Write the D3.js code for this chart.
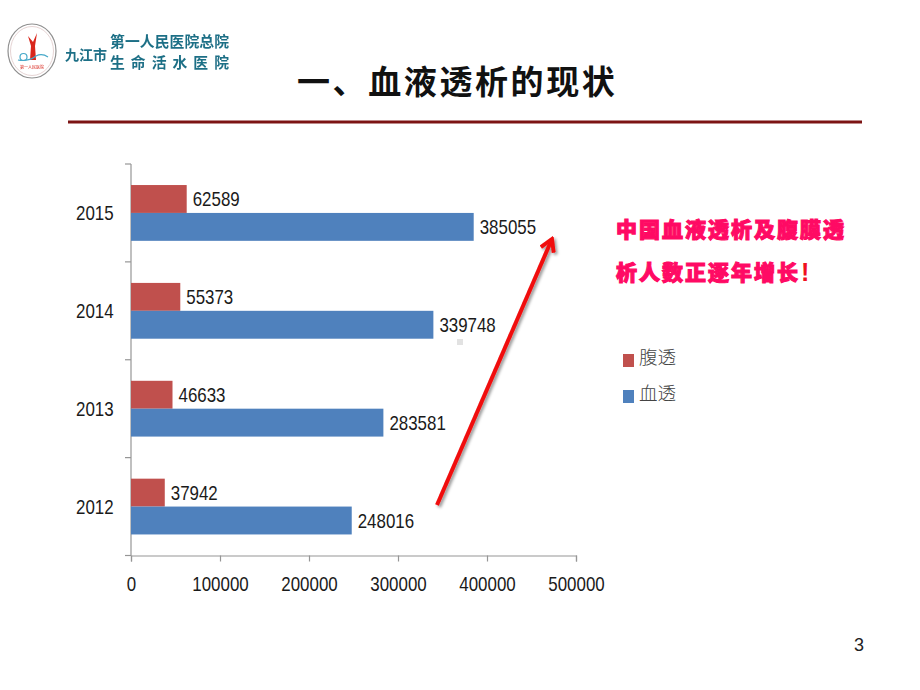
<!DOCTYPE html>
<html><head><meta charset="utf-8">
<script src="https://cdnjs.cloudflare.com/ajax/libs/d3/7.8.5/d3.min.js"></script>
<style>html,body{margin:0;padding:0;background:#fff}svg{display:block}</style>
</head><body><svg id="c" width="920" height="690"></svg>
<script>
const years = ["2012","2013","2014","2015"];
const hemo = [248016,283581,339748,385055];
const pd = [37942,46633,55373,62589];
const xTicks = [0,100000,200000,300000,400000,500000];
const legendLabels = ["腹透","血透"];
const title = "一、血液透析的现状";
const noteLines = ["中国血液透析及腹膜透","析人数正逐年增长"];
const logoTop = "第一人民医院总院", logoBottom = "生 命 活 水 医 院", logoLeft = "九江市";

const svg = d3.select("#c");
const cjk = '"Noto Sans CJK SC",sans-serif';
const latin = '"Liberation Sans",sans-serif';
const RED="#c0504d", BLUE="#4f81bd", AXIS="#969696", TXT="#1a1a1a";
const LFS=21, DIGIT=9.4;
const numText = sel => sel.attr("font-family",latin).attr("font-size",LFS).attr("fill",TXT)
  .attr("lengthAdjust","spacingAndGlyphs").attr("textLength",function(){return this.textContent.length*DIGIT;});

const x = d3.scaleLinear().domain([0,500000]).range([131,576]);
const y = d3.scaleBand().domain(years).range([555.5,164]).paddingInner(0.43).paddingOuter(0.215);
const half = y.bandwidth()/2;

const defs = svg.append("defs");
const f = defs.append("filter").attr("id","sh").attr("x","-20%").attr("y","-20%").attr("width","140%").attr("height","140%");
f.append("feDropShadow").attr("dx",2).attr("dy",2).attr("stdDeviation",1.5).attr("flood-color","#000").attr("flood-opacity",0.4);
const soft = defs.append("filter").attr("id","soft");
soft.append("feGaussianBlur").attr("stdDeviation",0.35);
defs.append("marker").attr("id","ah").attr("viewBox","0 0 12 12").attr("refX",10).attr("refY",6)
  .attr("markerWidth",4.2).attr("markerHeight",4.2).attr("orient","auto").attr("markerUnits","strokeWidth")
  .append("path").attr("d","M1.5,1 L10,6 L1.5,11").attr("fill","none").attr("stroke","#f00a0a").attr("stroke-width",2.8);

// logo
const lg = svg.append("g").attr("filter","url(#soft)");
lg.append("ellipse").attr("cx",32).attr("cy",51).attr("rx",24).attr("ry",27).attr("fill","#fff").attr("stroke","#8f8f8f").attr("stroke-width",1.2);
lg.append("ellipse").attr("cx",32).attr("cy",51).attr("rx",21.5).attr("ry",24.5).attr("fill","none").attr("stroke","#e6d4d4").attr("stroke-width",1);
lg.append("path").attr("d","M37,33 L33,42 L28,36 L31,46 L30,60 L36,60 L35,46 Z").attr("fill","#d9261c");
lg.append("circle").attr("cx",23.5).attr("cy",57).attr("r",3.5).attr("fill","none").attr("stroke","#46a9c9").attr("stroke-width",1.2);
lg.append("path").attr("d","M18,60 Q28,62 36,56 Q42,53 48,57").attr("fill","none").attr("stroke","#46a9c9").attr("stroke-width",1.2);
lg.append("text").attr("x",32).attr("y",69).attr("text-anchor","middle").attr("font-size",4).attr("fill","#d9261c").attr("font-family",cjk).text("第一人民医院");
lg.append("text").attr("x",65).attr("y",60).attr("font-family",cjk).attr("font-weight",700).attr("font-size",14).attr("fill","#1f6f86").text(logoLeft);
lg.append("text").attr("x",110).attr("y",47).attr("font-family",cjk).attr("font-weight",700).attr("font-size",14.8).attr("fill","#1f6f86").attr("textLength",119).text(logoTop);
lg.append("text").attr("x",110).attr("y",68).attr("font-family",cjk).attr("font-weight",700).attr("font-size",14.8).attr("fill","#1f6f86").attr("textLength",119).text(logoBottom);

// title and rule
svg.append("text").attr("x",297).attr("y",94).attr("font-family",cjk).attr("font-weight",700).attr("font-size",33).attr("fill","#111").attr("letter-spacing",2.6).text(title);
svg.append("line").attr("x1",68).attr("x2",862).attr("y1",122).attr("y2",122).attr("stroke","#7c1414").attr("stroke-width",3);

// axes
const xAxis = d3.axisBottom(x).tickValues(xTicks).tickSize(6).tickPadding(15).tickFormat(d=>d);
const gx = svg.append("g").attr("transform","translate(0,555.5)").call(xAxis);
gx.selectAll("text").call(numText);
gx.selectAll("line,path").attr("stroke",AXIS).attr("stroke-width",1.2);

svg.append("line").attr("x1",131).attr("x2",131).attr("y1",164).attr("y2",555.5).attr("stroke",AXIS).attr("stroke-width",1.2);
const yEdges = years.map(d=>y(d)-y.step()*0.215).concat([555.5]);
svg.selectAll(".yt").data(yEdges).join("line").attr("x1",125).attr("x2",131).attr("y1",d=>d).attr("y2",d=>d).attr("stroke",AXIS).attr("stroke-width",1.2);
svg.selectAll(".yl").data(years).join("text").attr("x",76)
  .attr("y",d=>y(d)+half+7).text(d=>d).call(numText);

// bars
const rows = years.map((d,i)=>({year:d,hemo:hemo[i],pd:pd[i]}));
svg.selectAll(".pd").data(rows).join("rect").attr("x",x(0)).attr("y",d=>y(d.year)).attr("width",d=>x(d.pd)-x(0)).attr("height",half).attr("fill",RED);
svg.selectAll(".he").data(rows).join("rect").attr("x",x(0)).attr("y",d=>y(d.year)+half).attr("width",d=>x(d.hemo)-x(0)).attr("height",half).attr("fill",BLUE);
svg.selectAll(".pdl").data(rows).join("text").attr("x",d=>x(d.pd)+6).attr("y",d=>y(d.year)+half/2+7).text(d=>d.pd).call(numText);
svg.selectAll(".hel").data(rows).join("text").attr("x",d=>x(d.hemo)+6).attr("y",d=>y(d.year)+half*1.5+7).text(d=>d.hemo).call(numText);

// arrow and speck
svg.append("rect").attr("x",457).attr("y",339).attr("width",6).attr("height",6).attr("fill","#e2e2e2");
svg.append("line").attr("x1",437).attr("y1",505).attr("x2",552).attr("y2",239).attr("stroke","#f00a0a").attr("stroke-width",4).attr("marker-end","url(#ah)").attr("filter","url(#sh)");

// note
svg.selectAll(".note").data(noteLines).join("text").attr("x",616).attr("y",(d,i)=>237+i*43)
  .attr("font-family",cjk).attr("font-weight",900).attr("font-size",21).attr("letter-spacing",2).attr("fill","#ff0a64").attr("stroke","#ff0a64").attr("stroke-width",1.1).text(d=>d);
svg.append("text").attr("x",801).attr("y",281).attr("font-family",latin).attr("font-weight",700).attr("font-size",25).attr("fill","#f01020").text("!");

// legend
const legendColors=[RED,BLUE];
const ly=[354,390];
svg.selectAll(".lr").data(legendLabels).join("rect").attr("x",623).attr("y",(d,i)=>ly[i]).attr("width",11).attr("height",13).attr("fill",(d,i)=>legendColors[i]);
svg.selectAll(".lt").data(legendLabels).join("text").attr("x",639).attr("y",(d,i)=>ly[i]+10).attr("font-family",cjk).attr("font-weight",300).attr("font-size",18.5).attr("fill","#444").text(d=>d);

// page number
svg.append("text").attr("x",859).attr("y",651).attr("text-anchor","middle").attr("font-family",latin).attr("font-size",18).attr("fill","#222").text("3");
</script></body></html>
